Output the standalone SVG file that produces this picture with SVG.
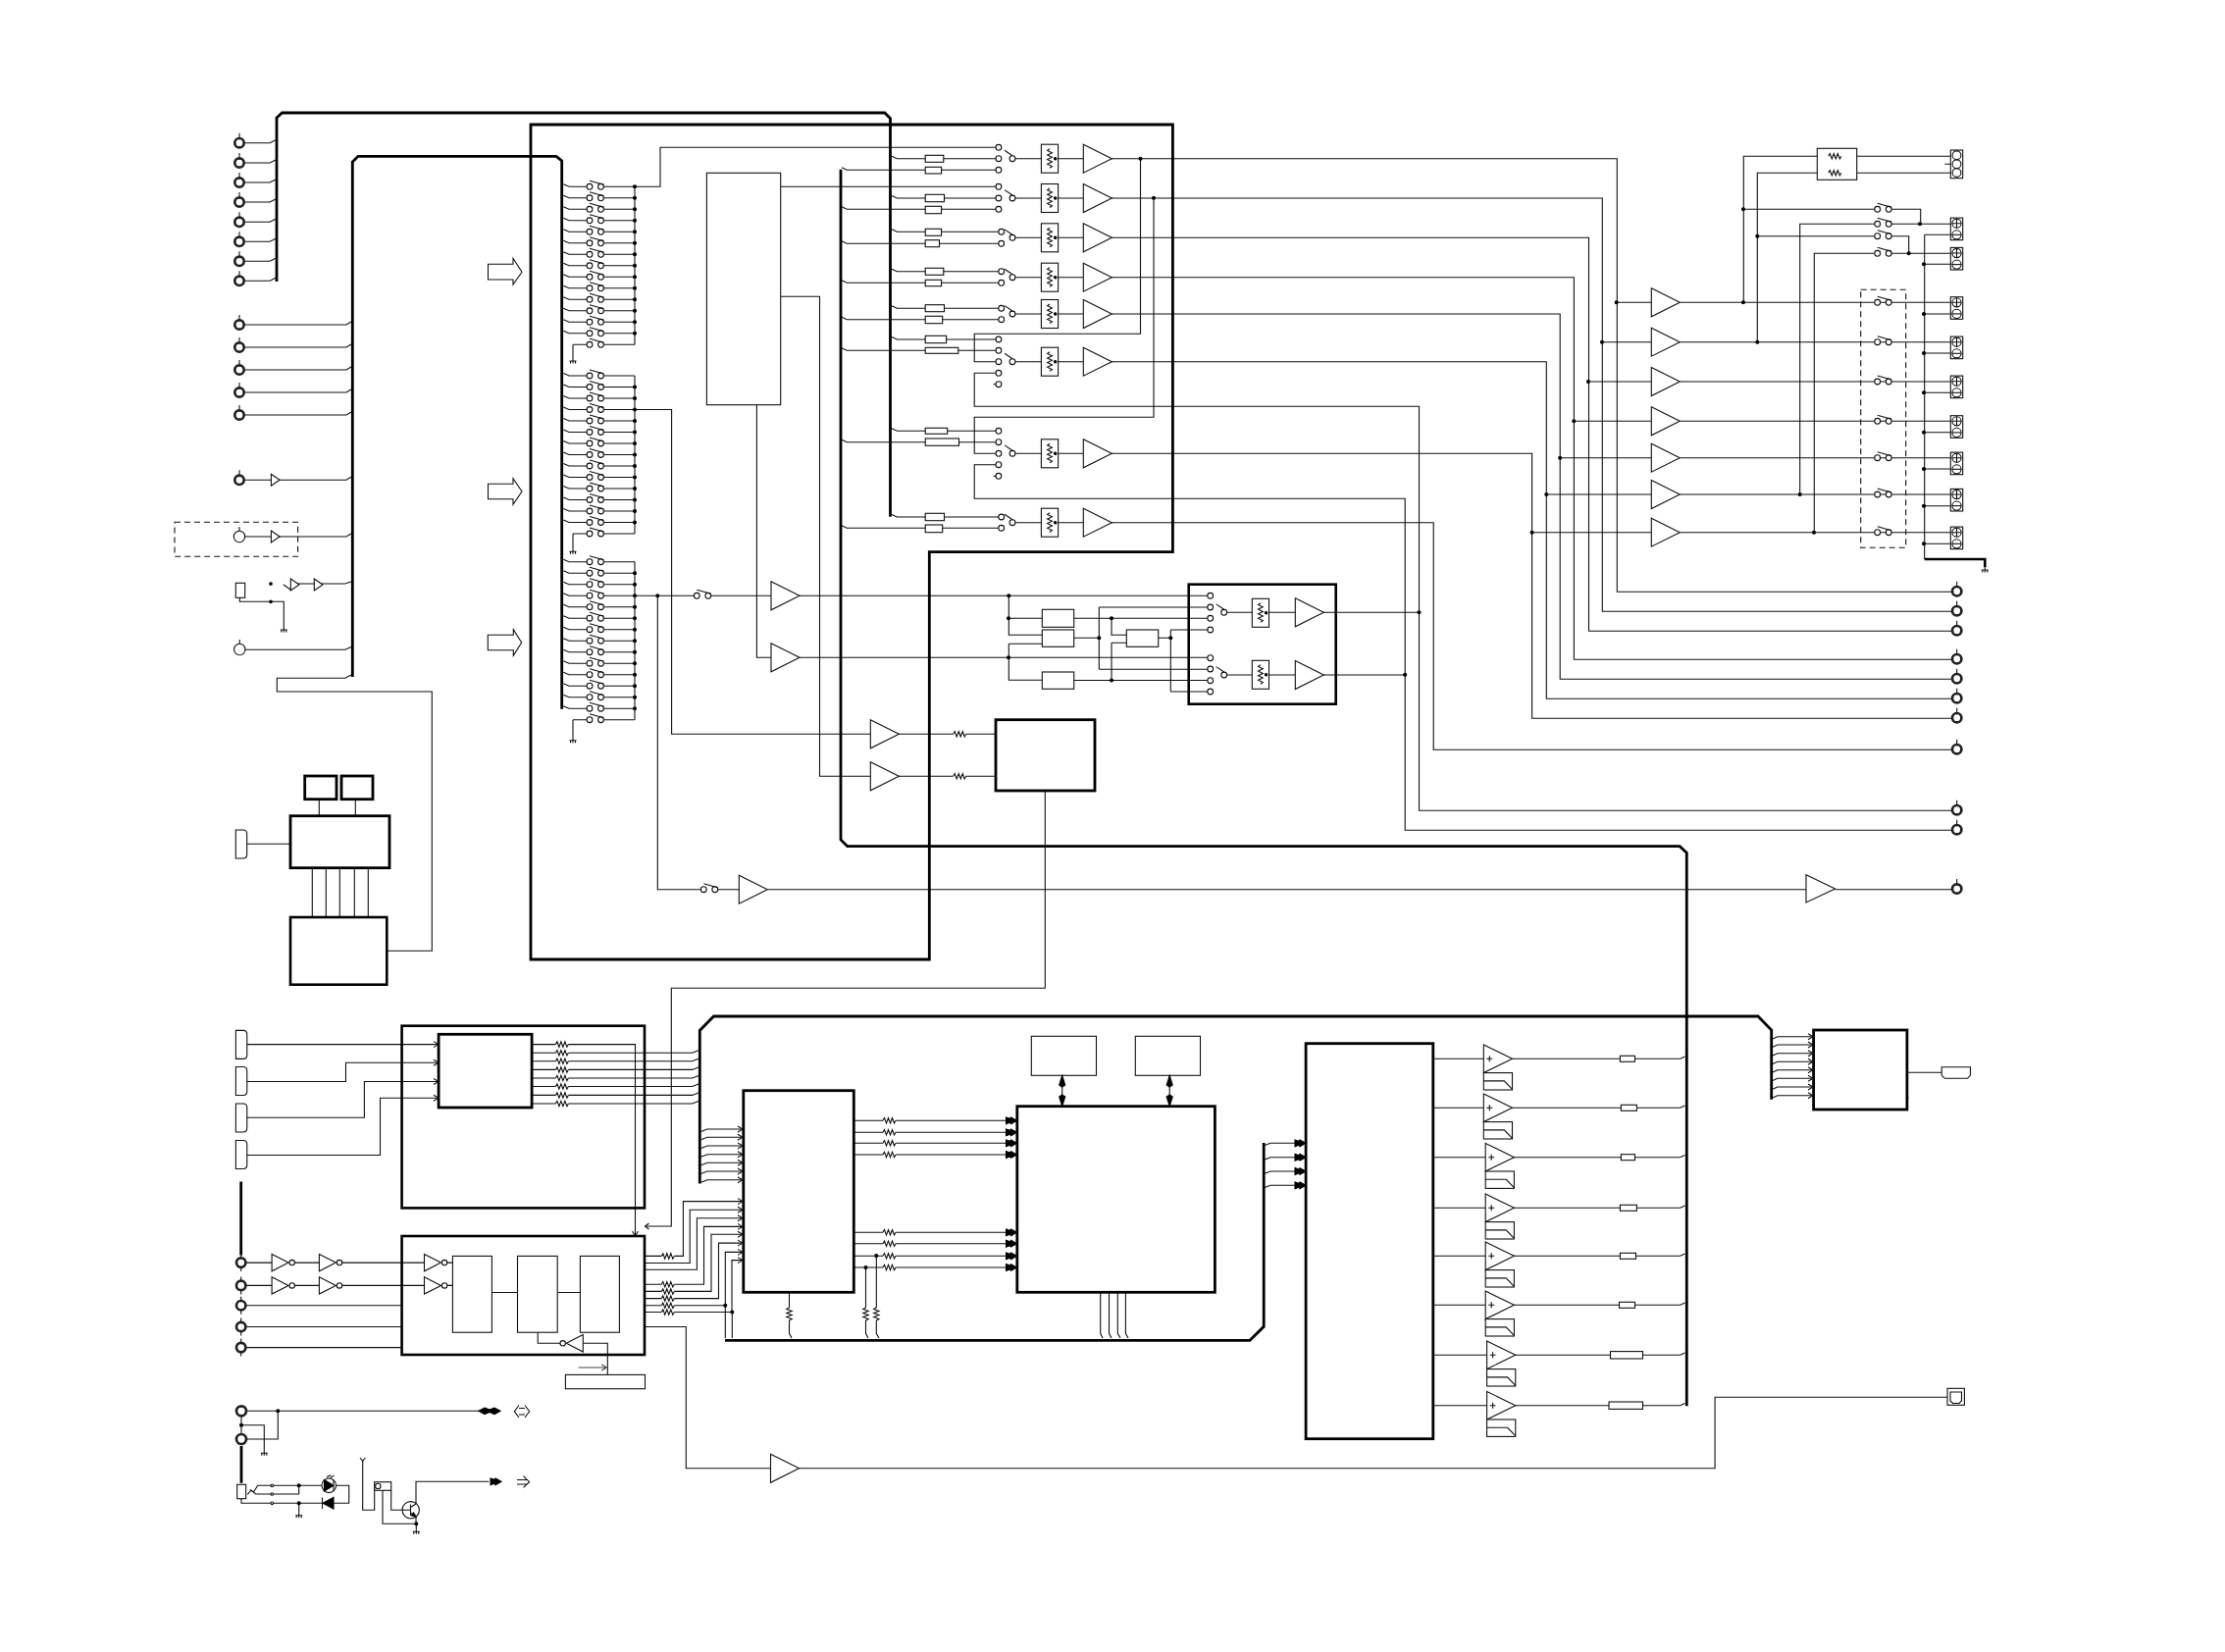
<svg xmlns="http://www.w3.org/2000/svg" xmlns:xlink="http://www.w3.org/1999/xlink" width="2268" height="1684" viewBox="0 0 2268 1684">
<style>
svg{background:#fff}
path,rect,circle,polygon,line{fill:none;stroke:#111;stroke-width:1.1}
.w{fill:#fff}
.b{stroke:#000;stroke-width:2.8}
.h{stroke:#000;stroke-width:2.6;fill:none}
.hw{stroke:#000;stroke-width:2.8;fill:#fff}
.d{stroke-dasharray:6 4}
.k{fill:#000;stroke:#000}
.g{stroke:#444}
.n{fill:#fff;stroke:none}
</style>
<defs>
<circle id="o" r="2.9" class="w"/>
<g id="sw"><circle r="2.9" class="w"/><circle cx="11.5" r="2.9" class="w"/><path d="M0-6L14.4-2"/></g>
<g id="mv"><circle r="2.9" class="w"/><path d="M-8-8.4L0-3"/></g>
<circle id="dot" r="1.5" class="k"/>
<g id="row"><path d="M574.3-2.5L580 0H598M615.5 0H647"/><use xlink:href="#sw" x="601"/><circle cx="647" r="1.5" class="k"/></g>
<g id="row0"><path d="M574.3-2.5L580 0H598M615.5 0H647"/><use xlink:href="#sw" x="601"/></g>
<g id="rowg"><path d="M584 0H598M615.5 0H647"/><use xlink:href="#sw" x="601"/></g>
<path id="gnd" d="M0 0V3M-3.5 3H3.5M-2.5 3V5.5M0 3V5.5M2.5 3V5.5"/>
<polygon id="tri" points="0,-14.5 29,0 0,14.5" class="w"/>
<polygon id="bs" points="0,-6 8.7,0 0,6" class="w"/>
<g id="inv"><polygon points="0,-8.7 17,0 0,8.7" class="w"/><circle cx="20.6" r="2.7" class="w"/></g>
<g id="rh"><rect x="0" y="-3" width="13" height="6" class="n"/><path d="M0 0l1.5-2.7 2 5.4 2-5.4 2 5.4 2-5.4 2 5.4 1.5-2.7"/></g>
<g id="rv"><rect x="-3" y="0" width="6" height="13" class="n"/><path d="M0 0l-2.7 1.5 5.4 2-5.4 2 5.4 2-5.4 2 5.4 2-2.7 1.5"/></g>
<g id="rb"><rect x="0" y="-14.5" width="17.2" height="29" class="w"/><path d="M8.6-10l-2.4 1.7 4.8 2.3-4.8 2.3 4.8 2.3-4.8 2.3 4.8 2.3-4.8 2.3 4.8 2.3-2.4 1.7"/><circle cx="14.3" r="1.2" class="k"/></g>
<g id="ring"><circle r="4.7" class="w" style="stroke:#222;stroke-width:2.7"/><path d="M0-5V-10"/></g>
<g id="ring2"><circle r="4.7" class="w" style="stroke:#222;stroke-width:2.7"/><path d="M0-5V-9M0 5V9"/></g>
<g id="pring"><circle r="5.7" class="w"/><path d="M0-5.7V-10"/></g>
<path id="dc" d="M0 0H7.4Q11.4 0 11.4 4V25Q11.4 29 7.4 29H0Z" class="w"/>
<g id="term"><rect x="-6.2" y="-5.6" width="12.4" height="22.6" class="w"/><circle r="4.6"/><path d="M-4.6 0H4.6M0-4.6V4.6"/><circle cy="11.6" r="4.6"/><path d="M-4.6 11.6H4.6"/></g>
<g id="amp"><polygon points="0,-14.3 29.2,0 0,14.3" class="w"/><path d="M3 0H9M6-3V3"/><rect x="0" y="14.3" width="29.2" height="17.4" class="w"/><path d="M0 22.6H21L29.2 31"/></g>
<path id="ao" d="M-5-3L0 0L-5 3"/>
<polygon id="af" points="-11,-3.4 -7,-2 -6,-3.4 0,0 -6,3.4 -7,2 -11,3.4" class="k"/>
</defs>

<g id="connectors">
<path class="b" d="M282 287V120L287.5 115H901.8L907.5 120.7V526.7"/>
<path class="b" d="M359.3 690V165L365 159.3H567L572.7 164V722.7"/>
<path class="b" d="M857 172.7V856L863.7 862.7H1712.2L1719.3 869.3V1433.3"/>
<path class="b" d="M713.3 1206.4V1050.4L727.5 1036H1792L1805.7 1050V1120.7"/>
<path class="b" d="M739 1366.3H1274L1288.2 1352.3V1165"/>
<path class="b" d="M245.7 1204.6V1279.6M246 1474V1511.7"/>
<path d="M250 145.7H275L281 142.7M250 166H275L281 163M250 186H275L281 183M250 206H275L281 203M250 226.3H275L281 223.3M250 246.3H275L281 243.3M250 266.3H275L281 263.3M250 286.3H275L281 283.3"/>
<path d="M250 331H353L358 328M250 354H353L358 351M250 377H353L358 374M250 400H353L358 397M250 423H353L358 420M250 489.3H353L358 486.3M250 547H353L358 544"/>
<path d="M289 596L296 601L301 595H351.7L358 593M244.3 609.3V613.3H289.3V639M250 662.3H351.7L358 659.5M358 688L351.7 691.3H282.3V705H440.3V969.3H394.3"/>
<path d="M325.3 814.7V831.7M362.3 814.7V831.7M318.3 884.7V935M332.3 884.7V935M346.3 884.7V935M361.3 884.7V935M375.3 884.7V935M251.7 860.3H296"/>
<path d="M647 190.3V351.3M647 383V544M647 572.7V733.7M584 351.3V365M584 544V559.3M584 733.7V751.7"/>
<path d="M647 190.3H673V150.3H1015M795.7 190.3H1015M647 417.5H684.6V748.3H887.3M647 607.3H707.4M724.6 607.3H786M670.3 607.3V906.7H714.4M731.6 906.7H753.3"/>
<path d="M771.4 412.7V670.3H786M795.7 302.3H835.5V791.3H887M815 607.3H1233M815 670.3H1231M1028.3 607.3V647.3H1062.3M1028.3 630.3H1062.3M1028.3 656.3V693.3H1062.3M1028.3 656.3H1062.3"/>
<path d="M916 748.3H1015M916 791.3H1015M1065.3 806V1007.3H684.3V1250H657.5"/>
<path d="M782.7 906.7H1841M1870.6 906.7H1989"/>
<path d="M909 159.2L914.3 161.7H1015M858 170.8L863.2 173.3H1015M909 199.5L914.3 202H1015M858 210.8L863.2 213.3H1015M909 233.8L914.3 236.3H1018M858 245.8L863.2 248.3H1018M909 274.2L914.3 276.7H1018M858 285.8L863.2 288.3H1018M909 311.8L914.3 314.3H1018M858 323.2L863.2 325.7H1018M909 343.5L914.3 346H1015M858 354.8L863.2 357.3H1015M909 436.8L914.3 439.3H1015M858 448.2L863.2 450.7H1015M909 524.5L914.3 527H1018M858 535.8L863.2 538.3H1018"/>
<path d="M1035 161.7H1061.4M1035 202H1061.4M1035 242.3H1061.4M1035 282.7H1061.4M1035 320H1061.4M1035 368.7H1061.4M1035 462.3H1061.4M1035 532.7H1061.4"/>
<path d="M1075.7 161.7H1104.3M1075.7 202H1104.3M1075.7 242.3H1104.3M1075.7 282.7H1104.3M1075.7 320H1104.3M1075.7 368.7H1104.3M1075.7 462.3H1104.3M1075.7 532.7H1104.3"/>
<path d="M1133 161.7H1648.3V603.3H1989M1133 202H1633.3V623.3H1989M1133 242.3H1619.5V643.3H1989M1133 282.7H1604.4V672.3H1989M1133 320H1590.2V692.3H1989M1133 368.7H1576.3V712.3H1989M1133 462.3H1561.6V732.3H1989M1133 532.7H1461.2V764.3H1989"/>
<path d="M1162.5 161.7V340.3H993.2V368.7H1015M1015 380.3H993.2V414.3H1446.5V826.3H1989M1176 202V425.3H993.2V462.3H1015M1015 473.7H993.2V508.3H1432.2V846.3H1989"/>
<path d="M1094.7 630.3H1231M1094.7 650.3H1120.3M1120.3 619V682.3M1120.3 619H1231M1120.3 682.3H1231M1133 630.3V647.3H1148.3M1133 655.3V693.5M1133 655.3H1148.3M1094.7 693.5H1231M1180.7 650.3H1193.3M1193.3 642V705M1193.3 642H1231M1193.3 705H1231"/>
<path d="M1250.6 624.3H1276.3M1250.6 688H1276.3M1290.6 624.3H1320.3M1290.6 688H1320.3M1349 624.3H1446.5M1349 688H1432.2"/>
<path d="M1647.7 308.3H1683.3M1633 348.7H1683.3M1619 389H1683.3M1604.3 429.3H1683.3M1590.2 466.7H1683.3M1576.3 504H1683.3M1561.6 542.7H1683.3"/>
<path d="M1712.7 308.3H1988M1712.7 348.7H1988M1712.7 389H1988M1712.7 429.3H1988M1712.7 466.7H1988M1712.7 504H1988M1712.7 542.7H1988"/>
<path d="M1777.3 308.3V159.3H1852.3M1791.3 348.7V176.3H1852.3M1892.7 159.3H1988M1892.7 176.3H1988M1982.3 167.3H1988"/>
<path d="M1777 213.3H1911M1928 213.3H1957.7V228.3M1834.7 504V228.3H1911M1928 228.3H1988M1791 240.7H1911M1928 240.7H1945.7V258.3M1849.3 542.7V258.3H1911M1928 258.3H1988"/>
<path d="M1961.7 239.3H1988M1961.7 269.3H1988M1961.7 320H1988M1961.7 360H1988M1961.7 400.3H1988M1961.7 440.7H1988M1961.7 478H1988M1961.7 515.7H1988M1961.7 554.3H1988M1961.7 239.3V570"/>
<path class="h" d="M1961.7 570H2023.3V578"/>
<path d="M251.8 1064.6H447M251.8 1102.5H352.5V1083.2H447M251.8 1139.3H371.4V1102.5H447M251.8 1177.5H387.5V1119.3H447"/>
<path d="M542.1 1064.6H647.5V1260M542.1 1073.2H705.7L712 1070.7M542.1 1081.8H705.7L712 1079.3M542.1 1090.4H705.7L712 1087.9M542.1 1099H705.7L712 1096.5M542.1 1107.5H705.7L712 1105M542.1 1116.4H705.7L712 1113.9M542.1 1125H705.7L712 1122.5"/>
<path d="M250 1287.1H277M297 1287.1H325.4M345 1287.1H432.5M250 1310.4H277M297 1310.4H325.4M345 1310.4H432.5M456 1287.1H461.4M456 1310.4H461.4M250 1330.7H409.6M250 1352.5H409.6M250 1373.6H409.6M501.4 1317.5H527.5M568.2 1317.5H591.4"/>
<path d="M548.2 1358.2V1369.3H571M594.3 1369.3H619.3V1401.4"/>
<path class="g" d="M589.6 1394H618.3M613.3 1391L618.3 1394L613.3 1397"/>
<path d="M657 1280.4H696.4V1224.6H757M657 1287.5H703.2V1233.2H757M657 1294.3H710.4V1241.8H757M657 1309.3H717.5V1250.4H757M657 1316.4H725V1258.2H757M657 1323.6H732.5V1267.1H757M657 1330.7H739.3V1276.4H757M657 1337.5H746V1284.6H757M739.3 1330.7V1364M746.3 1337.5V1364"/>
<path d="M657 1352.5H699.3V1496.8H785.5M814.5 1496.8H1748.1V1424.3H1985"/>
<path d="M714.5 1153.5L721 1151H757M714.5 1161.8L721 1159.3H757M714.5 1170.5L721 1168H757M714.5 1179.2L721 1176.7H757M714.5 1187.8L721 1185.3H757M714.5 1196.5L721 1194H757M714.5 1205.2L721 1202.7H757"/>
<path d="M870.3 1142.3H1030M870.3 1154.3H1030M870.3 1165.3H1030M870.3 1177H1030M870.3 1256.3H1030M870.3 1267.7H1030M870.3 1280.3H1030M870.3 1292H1030"/>
<path d="M882.5 1292V1359.3L885 1364M893.3 1280.3V1359.3L896 1364M804.5 1317.3V1359.3L807 1364M1121.7 1317.3V1359.3L1124 1364M1130.5 1317.3V1359.3L1133 1364M1139.3 1317.3V1359.3L1142 1364M1147.4 1317.3V1359.3L1150 1364"/>
<path d="M1082.7 1096.3V1127.7M1192.2 1096.3V1127.7"/>
<path d="M1288.5 1167.8L1295 1165.3H1324M1288.5 1182.2L1295 1179.7H1324M1288.5 1196.5L1295 1194H1324M1288.5 1210.8L1295 1208.3H1324"/>
<path d="M1460.8 1079.3H1512.3M1460.8 1129.3H1512.3M1460.8 1179.7H1514.2M1460.8 1231.3H1514.2M1460.8 1280.3H1514.2M1460.8 1330.3H1514.2M1460.8 1381.3H1515.6M1460.8 1432.7H1515.6"/>
<path d="M1541.5 1079.3H1712.7L1717.5 1077M1541.5 1129.3H1712.7L1717.5 1127M1543 1179.7H1712.7L1717.5 1177.4M1543 1231.3H1712.7L1717.5 1229M1543 1280.3H1712.7L1717.5 1278M1543 1330.3H1712.7L1717.5 1328M1544.3 1381.3H1712.7L1717.5 1379M1544.3 1432.7H1712.7L1717.5 1430.4"/>
<path d="M1807 1059L1811.8 1056.7H1848M1807 1067.3L1811.8 1065H1848M1807 1076L1811.8 1073.7H1848M1807 1084.6L1811.8 1082.3H1848M1807 1093L1811.8 1090.7H1848M1807 1101.6L1811.8 1099.3H1848M1807 1110.3L1811.8 1108H1848M1807 1119L1811.8 1116.7H1848"/>
<path d="M1943.9 1093.3H1979.2M1942 1116L1945 1119L1942 1122"/>
<path d="M251 1438.3H490M283.3 1438.3V1467H252M246 1443V1462M246 1452.7H269.3V1478.3M277.3 1514.3H304.7V1523H277.3M304.7 1514.3H328M342.5 1514.3H355.7V1532.3H340M246 1527.7V1532.3H328.3M304.7 1532.3V1541.7M369.7 1489.3V1539.3H381.7V1510.7M390 1519.3V1553.3H424.3M398.7 1519.3V1539.3H410M424.3 1553.3V1558.3M424 1533V1510.3H498.3M424 1546V1553.3"/>
<path d="M252.3 1523.3L256 1519L258.5 1521L262.7 1514.3H277.3M255 1518.5L260.7 1523H277.3"/>
</g>

<g id="bus-frame"><path class="b" d="M541 127H1195.4V562.7H947.3V978H541Z"/></g>

<g id="terminals-left-top">
<use xlink:href="#ring" x="244" y="145.7"/><use xlink:href="#ring" x="244" y="166"/><use xlink:href="#ring" x="244" y="186"/><use xlink:href="#ring" x="244" y="206"/><use xlink:href="#ring" x="244" y="226.3"/><use xlink:href="#ring" x="244" y="246.3"/><use xlink:href="#ring" x="244" y="266.3"/><use xlink:href="#ring" x="244" y="286.3"/>
<use xlink:href="#ring" x="244" y="331"/><use xlink:href="#ring" x="244" y="354"/><use xlink:href="#ring" x="244" y="377"/><use xlink:href="#ring" x="244" y="400"/><use xlink:href="#ring" x="244" y="423"/><use xlink:href="#ring" x="244" y="489.3"/>
<use xlink:href="#bs" x="276.4" y="489.3"/>
</g>
<g id="dashed-input"><rect class="d" x="178" y="532.3" width="125.6" height="35"/><use xlink:href="#pring" x="244" y="547"/><use xlink:href="#bs" x="276.4" y="547"/></g>
<g id="jack-input"><rect class="w" x="240.3" y="594.3" width="9.4" height="15"/><circle cx="276" cy="595" r="1.3" class="k"/><circle cx="276" cy="613.3" r="1.3" class="k"/><use xlink:href="#bs" x="296.3" y="596"/><use xlink:href="#bs" x="320.3" y="596"/><use xlink:href="#gnd" x="289.3" y="639"/></g>
<g id="input-662"><use xlink:href="#pring" x="244.3" y="662"/></g>
<g id="arrows-large">
<path class="w" d="M497.5 269.3H523V263.3L532 277.3L523 290V285H497.5Z"/>
<path class="w" d="M497.5 493.3H523V487.7L532 501L523 514.3V508.7H497.5Z"/>
<path class="w" d="M497.3 647.3H523.3V641.7L531.7 655L523.3 668.3V662.7H497.3Z"/>
</g>

<g id="switch-bank-1">
<use xlink:href="#row" y="190.3"/><use xlink:href="#row" y="201.8"/><use xlink:href="#row" y="213.3"/><use xlink:href="#row" y="224.8"/><use xlink:href="#row" y="236.3"/><use xlink:href="#row" y="247.8"/><use xlink:href="#row" y="259.3"/><use xlink:href="#row" y="270.8"/><use xlink:href="#row" y="282.3"/><use xlink:href="#row" y="293.8"/><use xlink:href="#row" y="305.3"/><use xlink:href="#row" y="316.8"/><use xlink:href="#row" y="328.3"/><use xlink:href="#row" y="339.8"/><use xlink:href="#rowg" y="351.3"/><use xlink:href="#gnd" x="584" y="365"/>
</g>
<g id="switch-bank-2">
<use xlink:href="#row0" y="383"/><use xlink:href="#row" y="394.5"/><use xlink:href="#row" y="406"/><use xlink:href="#row" y="417.5"/><use xlink:href="#row" y="429"/><use xlink:href="#row" y="440.5"/><use xlink:href="#row" y="452"/><use xlink:href="#row" y="463.5"/><use xlink:href="#row" y="475"/><use xlink:href="#row" y="486.5"/><use xlink:href="#row" y="498"/><use xlink:href="#row" y="509.5"/><use xlink:href="#row" y="521"/><use xlink:href="#row" y="532.5"/><use xlink:href="#rowg" y="544"/><use xlink:href="#gnd" x="584" y="559.3"/>
</g>
<g id="switch-bank-3">
<use xlink:href="#row0" y="572.7"/><use xlink:href="#row" y="584.2"/><use xlink:href="#row" y="595.7"/><use xlink:href="#row" y="607.2"/><use xlink:href="#row" y="618.7"/><use xlink:href="#row" y="630.2"/><use xlink:href="#row" y="641.7"/><use xlink:href="#row" y="653.2"/><use xlink:href="#row" y="664.7"/><use xlink:href="#row" y="676.2"/><use xlink:href="#row" y="687.7"/><use xlink:href="#row" y="699.2"/><use xlink:href="#row" y="710.7"/><use xlink:href="#row" y="722.2"/><use xlink:href="#rowg" y="733.7"/><use xlink:href="#gnd" x="584" y="751.7"/>
</g>

<g id="center-block"><rect class="w" x="720.4" y="176.3" width="75.3" height="236.4"/></g>
<g id="center-amps">
<use xlink:href="#sw" x="710.3" y="607.3"/><use xlink:href="#tri" x="786" y="607.3"/><use xlink:href="#tri" x="786" y="670.3"/><circle cx="670.3" cy="607.3" r="1.5" class="k"/>
<use xlink:href="#tri" x="887.3" y="748.3"/><use xlink:href="#tri" x="887.3" y="791.3"/><use xlink:href="#rh" x="971.7" y="748.3"/><use xlink:href="#rh" x="971.7" y="791.3"/>
<use xlink:href="#sw" x="717.3" y="906.7"/><use xlink:href="#tri" x="753.3" y="906.7"/>
</g>
<g id="block-dac"><rect class="hw" x="1015" y="733.7" width="101" height="72.3"/></g>

<g id="select-rows">
<rect class="w" x="943.2" y="158.3" width="18.6" height="7"/><rect class="w" x="943.2" y="170.3" width="16.4" height="6.7"/>
<rect class="w" x="943.2" y="198.3" width="19.3" height="7.4"/><rect class="w" x="943.2" y="210.3" width="16.4" height="7.4"/>
<rect class="w" x="943.2" y="233.3" width="16.4" height="7"/><rect class="w" x="943.2" y="244.7" width="14.3" height="7"/>
<rect class="w" x="943.2" y="273.3" width="18.6" height="7"/><rect class="w" x="943.2" y="285.3" width="16.4" height="6.4"/>
<rect class="w" x="943.2" y="310.7" width="19.3" height="7"/><rect class="w" x="943.2" y="322.3" width="17.5" height="7.4"/>
<rect class="w" x="943.2" y="342.3" width="21.4" height="7.4"/><rect class="w" x="943.2" y="354.3" width="33.6" height="6"/>
<rect class="w" x="943.2" y="436.3" width="22.5" height="6"/><rect class="w" x="943.2" y="447" width="34.3" height="7.3"/>
<rect class="w" x="943.2" y="523.3" width="19.3" height="7.4"/><rect class="w" x="943.2" y="535" width="17.5" height="7.7"/>
<use xlink:href="#o" x="1017.9" y="150.3"/><use xlink:href="#o" x="1017.9" y="161.7"/><use xlink:href="#o" x="1017.9" y="173.3"/><use xlink:href="#mv" x="1032" y="161.7"/>
<use xlink:href="#o" x="1017.9" y="190.3"/><use xlink:href="#o" x="1017.9" y="202"/><use xlink:href="#o" x="1017.9" y="213.3"/><use xlink:href="#mv" x="1032" y="202"/>
<use xlink:href="#o" x="1020.7" y="236.3"/><use xlink:href="#o" x="1020.7" y="248.3"/><use xlink:href="#mv" x="1032" y="242.3"/>
<use xlink:href="#o" x="1020.7" y="276.7"/><use xlink:href="#o" x="1020.7" y="288.3"/><use xlink:href="#mv" x="1032" y="282.7"/>
<use xlink:href="#o" x="1020.7" y="314.3"/><use xlink:href="#o" x="1020.7" y="325.7"/><use xlink:href="#mv" x="1032" y="320"/>
<use xlink:href="#o" x="1017.9" y="346"/><use xlink:href="#o" x="1017.9" y="357.3"/><use xlink:href="#o" x="1017.9" y="368.7"/><use xlink:href="#o" x="1017.9" y="380.3"/><use xlink:href="#o" x="1017.9" y="391.7"/><use xlink:href="#mv" x="1032" y="368.7"/><path d="M1012.5 391.7H1015"/>
<use xlink:href="#o" x="1017.9" y="439.3"/><use xlink:href="#o" x="1017.9" y="450.7"/><use xlink:href="#o" x="1017.9" y="462.3"/><use xlink:href="#o" x="1017.9" y="473.7"/><use xlink:href="#o" x="1017.9" y="485.3"/><use xlink:href="#mv" x="1032" y="462.3"/><path d="M1012.5 485.3H1015"/>
<use xlink:href="#o" x="1020.7" y="527"/><use xlink:href="#o" x="1020.7" y="538.3"/><use xlink:href="#mv" x="1032" y="532.7"/>
<use xlink:href="#rb" x="1061.4" y="161.7"/><use xlink:href="#rb" x="1061.4" y="202"/><use xlink:href="#rb" x="1061.4" y="242.3"/><use xlink:href="#rb" x="1061.4" y="282.7"/><use xlink:href="#rb" x="1061.4" y="320"/><use xlink:href="#rb" x="1061.4" y="368.7"/><use xlink:href="#rb" x="1061.4" y="462.3"/><use xlink:href="#rb" x="1061.4" y="532.7"/>
<use xlink:href="#tri" x="1104.3" y="161.7"/><use xlink:href="#tri" x="1104.3" y="202"/><use xlink:href="#tri" x="1104.3" y="242.3"/><use xlink:href="#tri" x="1104.3" y="282.7"/><use xlink:href="#tri" x="1104.3" y="320"/><use xlink:href="#tri" x="1104.3" y="368.7"/><use xlink:href="#tri" x="1104.3" y="462.3"/><use xlink:href="#tri" x="1104.3" y="532.7"/>
<use xlink:href="#dot" x="1162.5" y="161.7"/><use xlink:href="#dot" x="1176" y="201.7"/>
</g>

<g id="box-c">
<rect class="h" x="1211.7" y="595.7" width="150" height="122"/>
<rect class="w" x="1062.3" y="621.3" width="32.4" height="18"/><rect class="w" x="1062.3" y="642" width="32.4" height="17.3"/><rect class="w" x="1062.3" y="685" width="32.4" height="17.3"/><rect class="w" x="1148.3" y="642" width="32.4" height="17.3"/>
<use xlink:href="#dot" x="1028.3" y="607.3"/><use xlink:href="#dot" x="1028" y="630.3"/><use xlink:href="#dot" x="1028" y="670.3"/><use xlink:href="#dot" x="1133" y="630.3"/><use xlink:href="#dot" x="1133" y="693.5"/><use xlink:href="#dot" x="1120.3" y="650.3"/><use xlink:href="#dot" x="1193.3" y="650.3"/>
<use xlink:href="#o" x="1233.7" y="607.3"/><use xlink:href="#o" x="1233.7" y="619"/><use xlink:href="#o" x="1233.7" y="630.3"/><use xlink:href="#o" x="1233.7" y="642"/><use xlink:href="#o" x="1233.7" y="670.7"/><use xlink:href="#o" x="1233.7" y="682"/><use xlink:href="#o" x="1233.7" y="693.7"/><use xlink:href="#o" x="1233.7" y="705"/>
<use xlink:href="#mv" x="1247.7" y="624.3"/><use xlink:href="#mv" x="1247.7" y="688"/>
<use xlink:href="#rb" x="1276.3" y="624.8"/><use xlink:href="#rb" x="1276.3" y="687.8"/>
<use xlink:href="#tri" x="1320.3" y="624.3"/><use xlink:href="#tri" x="1320.3" y="688"/>
<use xlink:href="#dot" x="1446.5" y="624.3"/><use xlink:href="#dot" x="1432.2" y="687.7"/>
</g>

<g id="right-bank">
<use xlink:href="#dot" x="1647.7" y="308.3"/><use xlink:href="#dot" x="1633" y="348.7"/><use xlink:href="#dot" x="1619" y="389"/><use xlink:href="#dot" x="1604.3" y="429.3"/><use xlink:href="#dot" x="1590.2" y="466.7"/><use xlink:href="#dot" x="1576.3" y="504"/><use xlink:href="#dot" x="1561.6" y="542.7"/>
<use xlink:href="#tri" x="1683.3" y="308.3"/><use xlink:href="#tri" x="1683.3" y="348.7"/><use xlink:href="#tri" x="1683.3" y="389"/><use xlink:href="#tri" x="1683.3" y="429.3"/><use xlink:href="#tri" x="1683.3" y="466.7"/><use xlink:href="#tri" x="1683.3" y="504"/><use xlink:href="#tri" x="1683.3" y="542.7"/>
<use xlink:href="#dot" x="1777" y="308.3"/><use xlink:href="#dot" x="1791.3" y="348.7"/><use xlink:href="#dot" x="1834.7" y="504"/><use xlink:href="#dot" x="1849" y="542.7"/><use xlink:href="#dot" x="1777" y="213.3"/><use xlink:href="#dot" x="1791.3" y="240.7"/><use xlink:href="#dot" x="1957" y="228.3"/><use xlink:href="#dot" x="1945.7" y="258.3"/>
<rect class="d" x="1896.7" y="295.3" width="46" height="263"/>
<use xlink:href="#sw" x="1913.7" y="308.3"/><use xlink:href="#sw" x="1913.7" y="348.7"/><use xlink:href="#sw" x="1913.7" y="389"/><use xlink:href="#sw" x="1913.7" y="429.3"/><use xlink:href="#sw" x="1913.7" y="466.7"/><use xlink:href="#sw" x="1913.7" y="504"/><use xlink:href="#sw" x="1913.7" y="542.7"/>
<use xlink:href="#sw" x="1913.7" y="213.3"/><use xlink:href="#sw" x="1913.7" y="228.3"/><use xlink:href="#sw" x="1913.7" y="240.7"/><use xlink:href="#sw" x="1913.7" y="258.3"/>
<rect class="w" x="1852.3" y="151.3" width="40.4" height="32"/><use xlink:href="#rh" x="1863.8" y="159.3"/><use xlink:href="#rh" x="1863.8" y="176.3"/>
<rect class="w" x="1988.3" y="153" width="12.4" height="28.7"/><circle cx="1994.5" cy="158.3" r="4.4"/><circle cx="1994.5" cy="167.3" r="4.4"/><circle cx="1994.5" cy="176" r="4.4"/>
<use xlink:href="#term" x="1994.5" y="227.7"/><use xlink:href="#term" x="1994.5" y="258"/><use xlink:href="#term" x="1994.5" y="308.3"/><use xlink:href="#term" x="1994.5" y="348.7"/><use xlink:href="#term" x="1994.5" y="388.7"/><use xlink:href="#term" x="1994.5" y="429.3"/><use xlink:href="#term" x="1994.5" y="466.7"/><use xlink:href="#term" x="1994.5" y="504"/><use xlink:href="#term" x="1994.5" y="542.7"/>
<use xlink:href="#dot" x="1961" y="269.3"/><use xlink:href="#dot" x="1961" y="320"/><use xlink:href="#dot" x="1961" y="360"/><use xlink:href="#dot" x="1961" y="400.3"/><use xlink:href="#dot" x="1961" y="440.7"/><use xlink:href="#dot" x="1961" y="478"/><use xlink:href="#dot" x="1961" y="515.7"/><use xlink:href="#dot" x="1961" y="554.3"/>
<use xlink:href="#gnd" x="2023.3" y="578"/>
</g>
<g id="terminals-right">
<use xlink:href="#ring" x="1994.7" y="602.7"/><use xlink:href="#ring" x="1994.7" y="622.7"/><use xlink:href="#ring" x="1994.7" y="642.7"/><use xlink:href="#ring" x="1994.7" y="671.7"/><use xlink:href="#ring" x="1994.7" y="691.7"/><use xlink:href="#ring" x="1994.7" y="711.7"/><use xlink:href="#ring" x="1994.7" y="731.7"/><use xlink:href="#ring" x="1994.7" y="763.7"/><use xlink:href="#ring" x="1994.7" y="825.7"/><use xlink:href="#ring" x="1994.7" y="845.7"/>
<polygon points="1841,891.7 1870.6,906 1841,920" class="w"/><use xlink:href="#ring" x="1994.7" y="906"/>
</g>

<g id="memory-blocks">
<rect class="hw" x="310.7" y="791" width="32.3" height="23.7"/><rect class="hw" x="348" y="791" width="32" height="23.7"/>
<rect class="hw" x="296" y="831.7" width="101" height="53"/>
<rect class="h" style="fill:#fff" x="296" y="935" width="98.3" height="68.7"/>
<use xlink:href="#dc" x="240.3" y="846"/>
</g>

<g id="box-1">
<rect class="h" x="409.6" y="1045.7" width="247.4" height="185.7"/>
<rect class="hw" x="447.1" y="1054.3" width="95" height="74.7"/>
<use xlink:href="#dc" x="240.4" y="1050.4"/><use xlink:href="#dc" x="240.4" y="1087.5"/><use xlink:href="#dc" x="240.4" y="1125"/><use xlink:href="#dc" x="240.4" y="1162.5"/>
<use xlink:href="#ao" x="447" y="1064.6"/><use xlink:href="#ao" x="447" y="1083.2"/><use xlink:href="#ao" x="447" y="1102.5"/><use xlink:href="#ao" x="447" y="1119.3"/>
<use xlink:href="#rh" x="566.4" y="1064.6"/><use xlink:href="#rh" x="566.4" y="1073.2"/><use xlink:href="#rh" x="566.4" y="1081.8"/><use xlink:href="#rh" x="566.4" y="1090.4"/><use xlink:href="#rh" x="566.4" y="1099"/><use xlink:href="#rh" x="566.4" y="1107.5"/><use xlink:href="#rh" x="566.4" y="1116.4"/><use xlink:href="#rh" x="566.4" y="1125"/>
<path d="M644.5 1255L647.5 1260L650.5 1255"/>
</g>

<g id="box-2">
<rect class="h" x="409.6" y="1260" width="247.4" height="121"/>
<use xlink:href="#ring2" x="245.7" y="1287.1"/><use xlink:href="#ring2" x="245.7" y="1310.4"/><use xlink:href="#ring2" x="245.7" y="1330.7"/><use xlink:href="#ring2" x="245.7" y="1352.5"/><use xlink:href="#ring2" x="245.7" y="1373.6"/>
<use xlink:href="#inv" x="277.1" y="1287.1"/><use xlink:href="#inv" x="325.4" y="1287.1"/><use xlink:href="#inv" x="277.1" y="1310.4"/><use xlink:href="#inv" x="325.4" y="1310.4"/><use xlink:href="#inv" x="432.5" y="1287.1"/><use xlink:href="#inv" x="432.5" y="1310.4"/>
<rect class="w" x="461.4" y="1280.4" width="40" height="77.8"/><rect class="w" x="527.5" y="1280.4" width="40.7" height="77.8"/><rect class="w" x="591.4" y="1280.4" width="40" height="77.8"/>
<use xlink:href="#inv" transform="translate(594.3 1369.3) scale(-1 1)"/>
<rect class="w" x="576.4" y="1401.4" width="81.1" height="14.3"/>
<path d="M661.5 1247L657.5 1250L661.5 1253"/>
<use xlink:href="#rh" x="674.3" y="1280.4"/><use xlink:href="#rh" x="674.3" y="1309.3"/><use xlink:href="#rh" x="674.3" y="1316.4"/><use xlink:href="#rh" x="674.3" y="1323.6"/><use xlink:href="#rh" x="674.3" y="1330.7"/><use xlink:href="#rh" x="674.3" y="1337.5"/>
<use xlink:href="#dot" x="739.3" y="1330.7"/><use xlink:href="#dot" x="746.3" y="1337.5"/>
</g>

<g id="dsp-block-left">
<rect class="hw" x="757.8" y="1111.7" width="112.5" height="205.6"/>
<use xlink:href="#ao" x="757" y="1151"/><use xlink:href="#ao" x="757" y="1159.3"/><use xlink:href="#ao" x="757" y="1168"/><use xlink:href="#ao" x="757" y="1176.7"/><use xlink:href="#ao" x="757" y="1185.3"/><use xlink:href="#ao" x="757" y="1194"/><use xlink:href="#ao" x="757" y="1202.7"/>
<use xlink:href="#ao" x="757" y="1224.6"/><use xlink:href="#ao" x="757" y="1233.2"/><use xlink:href="#ao" x="757" y="1241.8"/><use xlink:href="#ao" x="757" y="1250.4"/><use xlink:href="#ao" x="757" y="1258.2"/><use xlink:href="#ao" x="757" y="1267.1"/><use xlink:href="#ao" x="757" y="1276.4"/><use xlink:href="#ao" x="757" y="1284.6"/>
<use xlink:href="#rh" x="900" y="1142.3"/><use xlink:href="#rh" x="900" y="1154.3"/><use xlink:href="#rh" x="900" y="1165.3"/><use xlink:href="#rh" x="900" y="1177"/><use xlink:href="#rh" x="900" y="1256.3"/><use xlink:href="#rh" x="900" y="1267.7"/><use xlink:href="#rh" x="900" y="1280.3"/><use xlink:href="#rh" x="900" y="1292"/>
<use xlink:href="#rv" x="804.5" y="1333"/><use xlink:href="#rv" x="882.5" y="1333"/><use xlink:href="#rv" x="893.3" y="1333"/>
<use xlink:href="#dot" x="882.5" y="1292"/><use xlink:href="#dot" x="893.3" y="1280"/>
</g>
<g id="dsp-block-right">
<rect class="hw" x="1036.8" y="1127.7" width="201.6" height="189.6"/>
<use xlink:href="#af" x="1036.5" y="1142.3"/><use xlink:href="#af" x="1036.5" y="1154.3"/><use xlink:href="#af" x="1036.5" y="1165.3"/><use xlink:href="#af" x="1036.5" y="1177"/><use xlink:href="#af" x="1036.5" y="1256.3"/><use xlink:href="#af" x="1036.5" y="1267.7"/><use xlink:href="#af" x="1036.5" y="1280.3"/><use xlink:href="#af" x="1036.5" y="1292"/>
<rect class="w" x="1051.3" y="1056.3" width="66.2" height="40"/><rect class="w" x="1157.3" y="1056.3" width="66.2" height="40"/>
<polygon class="k" points="1082.7,1096.3 1085.7,1106 1082.7,1108 1079.7,1106"/><polygon class="k" points="1082.7,1127.7 1085.7,1118 1082.7,1116 1079.7,1118"/>
<polygon class="k" points="1192.2,1096.3 1195.2,1106 1192.2,1108 1189.2,1106"/><polygon class="k" points="1192.2,1127.7 1195.2,1118 1192.2,1116 1189.2,1118"/>
</g>
<g id="dac-block">
<rect class="hw" x="1331.1" y="1063.7" width="129.7" height="403"/>
<use xlink:href="#af" x="1331" y="1165.3"/><use xlink:href="#af" x="1331" y="1179.7"/><use xlink:href="#af" x="1331" y="1194"/><use xlink:href="#af" x="1331" y="1208.3"/>
</g>
<g id="amp-stage">
<use xlink:href="#amp" x="1512.3" y="1079.3"/><use xlink:href="#amp" x="1512.3" y="1129.3"/><use xlink:href="#amp" x="1514.2" y="1179.7"/><use xlink:href="#amp" x="1514.2" y="1231.3"/><use xlink:href="#amp" x="1514.2" y="1280.3"/><use xlink:href="#amp" x="1514.2" y="1330.3"/><use xlink:href="#amp" x="1515.6" y="1381.3"/><use xlink:href="#amp" x="1515.6" y="1432.7"/>
<rect class="w" x="1651.4" y="1076.3" width="15.1" height="6"/><rect class="w" x="1652.4" y="1126.3" width="16" height="6"/><rect class="w" x="1652.4" y="1176.7" width="14.1" height="6"/><rect class="w" x="1651.4" y="1228.3" width="17" height="6"/><rect class="w" x="1651.4" y="1277.3" width="16.1" height="6"/><rect class="w" x="1650.5" y="1327.3" width="16" height="6"/><rect class="w" x="1641.5" y="1377.6" width="33" height="7.4"/><rect class="w" x="1640" y="1429" width="34.5" height="7.4"/>
</g>
<g id="output-block">
<rect class="hw" x="1848.6" y="1050" width="95.3" height="81"/>
<use xlink:href="#ao" x="1848" y="1056.7"/><use xlink:href="#ao" x="1848" y="1065"/><use xlink:href="#ao" x="1848" y="1073.7"/><use xlink:href="#ao" x="1848" y="1082.3"/><use xlink:href="#ao" x="1848" y="1090.7"/><use xlink:href="#ao" x="1848" y="1099.3"/><use xlink:href="#ao" x="1848" y="1108"/><use xlink:href="#ao" x="1848" y="1116.7"/>
<path class="w" d="M1979.2 1087.7H2008.5V1096L2005.5 1099.3H1982.2L1979.2 1096Z"/>
</g>
<g id="optical-out">
<polygon points="785.5,1482.3 814.5,1496.8 785.5,1511.3" class="w"/>
<rect class="w" x="1985" y="1415.3" width="17.4" height="17"/><path d="M1988 1419H1999.5V1428L1997 1430.5H1990.5L1988 1428Z"/>
</g>
<g id="power-input">
<use xlink:href="#dot" x="283.3" y="1438.3"/><use xlink:href="#dot" x="246" y="1452.7"/><use xlink:href="#gnd" x="269.3" y="1478.3"/>
<circle cx="246" cy="1438.3" r="5" class="w" style="stroke:#222;stroke-width:2.7"/><circle cx="246" cy="1467" r="5" class="w" style="stroke:#222;stroke-width:2.7"/>
<polygon class="k" points="488,1438.3 494,1435 499,1437 504,1435 510,1438.3 504,1441.6 499,1439.6 494,1441.6"/>
<path d="M529 1432.5L524.3 1438.7L529 1445M529 1435.5H535M529 1442H535M535 1432.5L539.6 1438.7L535 1445"/>
<rect class="w" x="241.7" y="1513.3" width="9" height="14.4"/>
<circle cx="277.3" cy="1514.3" r="1.3" class="w"/><circle cx="277.3" cy="1523" r="1.3" class="w"/><circle cx="277.3" cy="1532.3" r="1.3" class="w"/>
<use xlink:href="#dot" x="304.7" y="1514.3"/><use xlink:href="#dot" x="304.7" y="1532.3"/><use xlink:href="#gnd" x="304.7" y="1541.7"/>
<circle cx="335.3" cy="1514.3" r="7.3"/><polygon class="k" points="330.5,1508.5 340,1514.3 330.5,1520"/><path d="M340 1508.5V1520M333 1506L337 1503.5M336.5 1506.5L340.5 1504"/>
<polygon class="k" points="340,1526.5 340,1538 329,1532.3"/><path d="M328.5 1526.5V1538"/>
</g>
<g id="remote-input">
<path d="M367 1486L369.7 1489.3L372.4 1486"/>
<rect class="w" x="381.7" y="1510.7" width="17" height="8.6"/><circle cx="385.3" cy="1515" r="2.7"/>
<circle cx="418.7" cy="1539.3" r="8.7" class="w"/><path d="M418.5 1533.5V1545M410 1539.3H418.5M418.5 1536.5L424 1533M418.5 1542L424 1546"/><polygon class="k" points="424,1546 419.5,1545 421.5,1542"/>
<use xlink:href="#dot" x="424.3" y="1553.3"/><use xlink:href="#gnd" x="424.3" y="1558.3"/>
<use xlink:href="#af" x="511" y="1510.3"/>
<path d="M527 1508.5H537M527 1513H537M533.5 1504.7L539.6 1510.7L533.5 1516.4"/>
</g>
</svg>
